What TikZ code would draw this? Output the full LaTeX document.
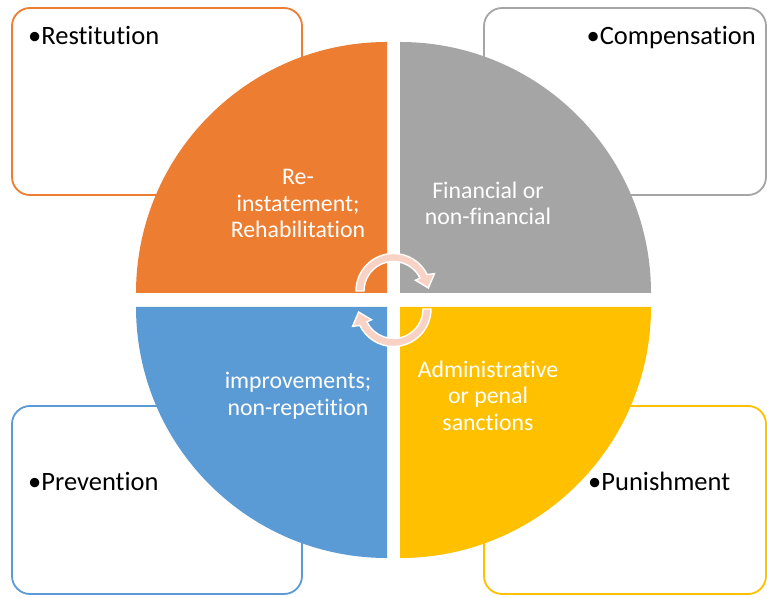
\documentclass[tikz,border=0pt]{standalone}
\usepackage{fontspec}
\setmainfont{Carlito}[Ligatures=NoCommon]
\definecolor{qorange}{HTML}{ED7D31}
\definecolor{qgray}{HTML}{A5A5A5}
\definecolor{qgold}{HTML}{FFC000}
\definecolor{qblue}{HTML}{5B9BD5}
\definecolor{cyclefill}{HTML}{F8D3C5}
\begin{document}
\begin{tikzpicture}[x=1pt,y=1pt,
  outerbox/.style={draw=#1, line width=1.8pt, rounded corners=18pt, fill=white},
  boxlabel/.style={inner sep=0pt, font=\fontsize{26.5}{32}\selectfont, text=black},
  quarter/.style={fill=#1, draw=none},
  quadtext/.style={align=center, inner sep=0pt, text=white, anchor=base,
    font=\fontsize{23.8}{26.5}\selectfont},
  cyclearrow/.style={fill=cyclefill, draw=white, line width=1.4pt, line join=miter}]
\useasboundingbox (0,0) rectangle (767,597);

% outer label boxes
\draw[outerbox=qorange] (12,402) rectangle (302,589);
\draw[outerbox=qgray]   (484,402) rectangle (766,589);
\draw[outerbox=qblue]   (12,3) rectangle (302,191);
\draw[outerbox=qgold]   (484,3) rectangle (766,191);

\node[boxlabel, anchor=base west] (restitution)  at (28,552)  {•Restitution};
\node[boxlabel, anchor=base east] (compensation) at (756,552) {•Compensation};
\node[boxlabel, anchor=base west] (prevention)   at (28,107)  {•Prevention};
\node[boxlabel, anchor=base west] (punishment)   at (588,107) {•Punishment};

% four quarter discs
\fill[quarter=qorange] (387,304) -- ++(-251,0) arc[start angle=180, end angle=90, radius=251] -- cycle;
\fill[quarter=qgray]   (400,304) -- ++(0,251) arc[start angle=90, end angle=0, radius=251] -- cycle;
\fill[quarter=qblue]   (387,290) -- ++(0,-251) arc[start angle=270, end angle=180, radius=251] -- cycle;
\fill[quarter=qgold]   (400,290) -- ++(251,0) arc[start angle=0, end angle=-90, radius=251] -- cycle;

% multi-line labels are anchored at the baseline of their last line
\node[quadtext] (reinstate) at (298,359) {Re-\\instatement;\\Rehabilitation};
\node[quadtext] (financial) at (488,372) {Financial or\\non-financial};
\node[quadtext] (sanctions) at (488,167) {Administrative\\or penal\\sanctions};
\node[quadtext] (improve)   at (298,182) {improvements;\\non-repetition};

% circular arrows in the middle
\foreach \cx/\cy/\rot in {393.5/306/0, 393.5/288/180}{
  \draw[cyclearrow, shift={(\cx,\cy)}, rotate=\rot]
    (180:37.5) arc[start angle=180, end angle=26, radius=37.5]
    -- (23:44.5) -- (5:35) -- (26:24.5) -- (26:29.5)
    arc[start angle=26, end angle=180, radius=29.5] -- cycle;
}
\end{tikzpicture}
\end{document}
